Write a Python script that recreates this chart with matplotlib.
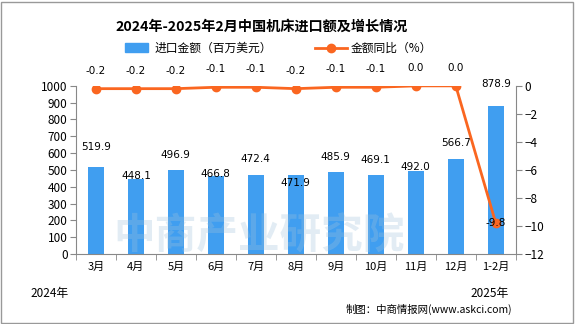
import numpy as np
import matplotlib.pyplot as plt
from matplotlib.patches import Rectangle

plt.rcParams['font.family'] = ['Noto Sans CJK SC', 'DejaVu Sans']

months = ['3月', '4月', '5月', '6月', '7月', '8月', '9月', '10月', '11月', '12月', '1-2月']
amount = [519.9, 448.1, 496.9, 466.8, 472.4, 471.9, 485.9, 469.1, 492.0, 566.7, 878.9]
growth = [-0.2, -0.2, -0.2, -0.1, -0.1, -0.2, -0.1, -0.1, 0.0, 0.0, -9.8]

# label offsets (points) relative to bar top, to mimic the original placement
bar_label_dy = [14, 2, 11, 1, 11, -6, 11, 11, 3, 11, 16]

bar_color = '#409EF0'
line_color = '#FA6620'

fig = plt.figure(figsize=(5.75, 3.24), dpi=100)
ax = fig.add_axes([0.132, 0.216, 0.765, 0.519])
ax2 = ax.twinx()

x = np.arange(len(months))

ax.bar(x, amount, width=0.4, color=bar_color, zorder=2)
for xi, v, dy in zip(x, amount, bar_label_dy):
    ax.annotate(f'{v:.1f}', (xi, v), xytext=(0, dy), textcoords='offset points',
                ha='center', va='center', fontsize=7.5, family='DejaVu Sans')

ax2.plot(x, growth, color=line_color, lw=2, marker='o', ms=6, zorder=3)
for xi, v in zip(x, growth):
    if v < -5:
        ax2.annotate(f'{v:.1f}', (xi, v), ha='center', va='center', fontsize=7.5,
                     family='DejaVu Sans')
    else:
        ax2.annotate(f'{v:.1f}', (xi, v), xytext=(0, 13), textcoords='offset points',
                     ha='center', va='center', fontsize=7.5, family='DejaVu Sans')

ax.set_xlim(-0.5, len(months) - 0.5)
ax.set_ylim(0, 1000)
ax.set_yticks(np.arange(0, 1001, 100))
ax2.set_ylim(-12, 0)
ax2.set_yticks(np.arange(-12, 1, 2))

ax.set_xticks(x)
ax.set_xticklabels(months, fontsize=8)
ax.set_xticks(np.arange(-0.5, len(months), 1), minor=True)
ax.tick_params(axis='x', which='major', length=0, pad=6)
ax.tick_params(axis='x', which='minor', length=4, color='#888888')
ax.tick_params(axis='y', labelsize=8.5, length=4, color='#888888', pad=2)
ax2.tick_params(axis='y', labelsize=8.5, length=4, color='#888888', pad=2)

for a in (ax, ax2):
    a.spines['top'].set_visible(False)
    for s in ('left', 'right', 'bottom'):
        a.spines[s].set_color('#888888')
ax.spines['right'].set_visible(False)
ax2.spines['left'].set_visible(False)
ax2.spines['bottom'].set_visible(False)

# faint watermark, kept inside the plot area
fig.text(0.45, 0.27, '中商产业研究院', fontsize=30, color='#9fc2dc', alpha=0.3,
         ha='center', va='center', fontweight='bold', zorder=10)

fig.text(0.455, 0.918, '2024年-2025年2月中国机床进口额及增长情况', ha='center', va='center',
         fontsize=10.2, fontweight='bold')

# legend
fig.patches.append(Rectangle((0.218, 0.838), 0.04, 0.03, transform=fig.transFigure,
                             color=bar_color))
fig.text(0.268, 0.852, '进口金额（百万美元）', fontsize=8.5, va='center')
fig.lines.append(plt.Line2D([0.548, 0.604], [0.852, 0.852], transform=fig.transFigure,
                            color=line_color, lw=2))
fig.lines.append(plt.Line2D([0.576], [0.852], transform=fig.transFigure,
                            color=line_color, marker='o', ms=6))
fig.text(0.61, 0.852, '金额同比（%）', fontsize=8.5, va='center')

fig.text(0.053, 0.095, '2024年', fontsize=8.5, va='center')
fig.text(0.818, 0.095, '2025年', fontsize=8.5, va='center')
fig.text(0.891, 0.045, '制图：中商情报网(www.askci.com)', fontsize=7.5, va='center', ha='right')

fig.patches.append(Rectangle((0.002, 0.004), 0.995, 0.99, transform=fig.transFigure,
                             fill=False, edgecolor='#999999', lw=1))

fig.savefig('out.png', dpi=100)
